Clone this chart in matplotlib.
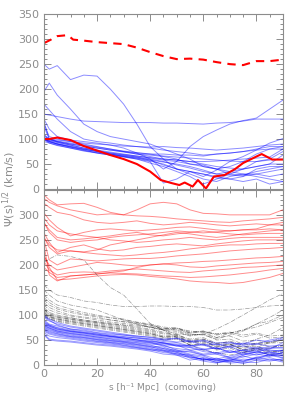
import matplotlib
matplotlib.use("Agg")
import matplotlib.pyplot as plt
from matplotlib.ticker import MultipleLocator

# common sampling of the separation axis
s = [0, 2, 5, 10, 15, 20, 25, 30, 35, 40, 45, 50, 55, 60, 65, 70, 75, 80, 85, 90]

# ---- top panel ----
top_blue = [
    [250, 240, 247, 219, 228, 226, 200, 170, 130, 85, 60, 40, 35, 25, 38, 55, 65, 78, 92, 101],
    [195, 212, 188, 160, 130, 115, 105, 100, 95, 90, 80, 70, 60, 45, 40, 30, 28, 35, 40, 45],
    [170, 158, 140, 115, 100, 95, 92, 88, 85, 82, 78, 75, 72, 68, 70, 72, 75, 80, 85, 85],
    [150, 148, 145, 140, 136, 135, 134, 133, 133, 133, 132, 132, 131, 130, 132, 133, 136, 140, 140, 140],
    [140, 120, 105, 98, 95, 92, 88, 82, 72, 60, 40, 55, 85, 105, 118, 130, 137, 142, 160, 178],
    [135, 100, 98, 95, 92, 90, 88, 86, 85, 84, 85, 83, 82, 80, 78, 80, 82, 85, 88, 90],
    [130, 105, 100, 95, 90, 85, 80, 75, 70, 68, 65, 60, 50, 45, 40, 45, 55, 70, 80, 85],
    [125, 100, 96, 92, 88, 84, 80, 76, 73, 70, 66, 64, 62, 60, 58, 56, 55, 55, 58, 60],
    [110, 98, 95, 90, 86, 82, 78, 74, 70, 65, 60, 58, 55, 50, 45, 42, 40, 45, 50, 50],
    [105, 100, 94, 88, 82, 78, 74, 70, 66, 62, 58, 55, 50, 48, 40, 35, 30, 25, 20, 15],
    [100, 97, 93, 88, 82, 77, 72, 68, 64, 58, 48, 40, 30, 20, 15, 25, 30, 30, 25, 30],
    [100, 95, 90, 85, 80, 75, 70, 66, 62, 56, 50, 40, 35, 30, 25, 20, 15, 20, 10, 15],
    [98, 94, 90, 84, 78, 72, 68, 64, 60, 55, 12, 20, 35, 30, 22, 20, 25, 40, 45, 45],
    [95, 92, 88, 82, 76, 72, 68, 65, 62, 58, 54, 50, 45, 38, 30, 35, 40, 45, 50, 68],
    [102, 95, 90, 84, 79, 75, 70, 65, 60, 52, 45, 35, 25, 10, 20, 30, 40, 55, 60, 75],
    [100, 96, 91, 86, 80, 76, 72, 69, 66, 63, 60, 58, 55, 55, 56, 58, 60, 62, 64, 80],
    [108, 100, 95, 90, 86, 82, 78, 75, 72, 70, 70, 68, 68, 66, 70, 72, 75, 78, 80, 80],
    [100, 92, 87, 82, 77, 73, 70, 67, 64, 60, 55, 48, 42, 35, 30, 28, 26, 30, 35, 40],
]

red_solid_s = [0, 2, 5, 10, 15, 20, 25, 30, 35, 40, 44, 48, 51, 53, 56, 58, 61, 64, 68, 72, 75, 80, 82, 86, 90]
red_solid = [100, 100, 103, 98, 86, 77, 68, 60, 50, 35, 18, 12, 8, 13, 5, 18, 1, 25, 28, 40, 52, 65, 70, 59, 59]

red_dash_s = [0, 3, 5, 9, 11, 15, 20, 25, 30, 35, 40, 45, 50, 55, 60, 65, 70, 75, 80, 85, 90]
red_dash = [292, 300, 306, 308, 299, 297, 294, 292, 290, 283, 274, 266, 260, 261, 259, 254, 250, 248, 256, 256, 259]

# ---- bottom panel ----
bot_red = [
    [340, 330, 320, 322, 323, 315, 305, 300, 310, 322, 325, 322, 310, 303, 302, 300, 300, 300, 300, 310],
    [333, 325, 318, 310, 305, 300, 302, 300, 298, 297, 295, 292, 290, 288, 286, 285, 288, 290, 292, 295],
    [323, 315, 305, 300, 290, 285, 283, 285, 288, 283, 280, 282, 285, 283, 280, 278, 280, 282, 280, 280],
    [304, 290, 275, 258, 265, 270, 272, 270, 268, 270, 272, 275, 276, 273, 270, 268, 270, 270, 272, 270],
    [294, 280, 268, 262, 258, 255, 258, 262, 265, 260, 258, 262, 265, 268, 265, 262, 260, 262, 263, 263],
    [284, 270, 255, 250, 252, 255, 250, 248, 245, 247, 250, 252, 255, 252, 250, 253, 255, 255, 255, 255],
    [264, 245, 225, 235, 240, 232, 228, 230, 235, 237, 240, 242, 240, 238, 242, 245, 248, 250, 250, 250],
    [255, 235, 222, 228, 225, 222, 220, 218, 220, 223, 225, 228, 232, 235, 238, 240, 240, 242, 243, 243],
    [250, 210, 200, 212, 210, 208, 210, 212, 213, 213, 215, 218, 220, 222, 225, 228, 230, 232, 233, 235],
    [240, 180, 168, 178, 180, 182, 185, 188, 195, 200, 202, 204, 205, 207, 208, 210, 212, 214, 215, 217],
    [217, 200, 190, 195, 200, 205, 203, 200, 198, 200, 202, 200, 196, 195, 198, 200, 202, 204, 205, 207],
    [207, 190, 180, 185, 186, 185, 188, 190, 192, 190, 188, 186, 185, 188, 190, 192, 195, 196, 198, 200],
    [195, 185, 175, 178, 180, 182, 184, 183, 182, 180, 178, 177, 175, 176, 178, 180, 183, 186, 190, 193],
    [220, 195, 170, 172, 175, 178, 180, 181, 180, 177, 175, 172, 168, 166, 165, 163, 165, 170, 175, 183],
    [255, 240, 230, 228, 226, 230, 240, 245, 250, 255, 260, 265, 262, 258, 255, 258, 262, 265, 268, 270],
    [285, 265, 250, 245, 248, 250, 255, 258, 260, 262, 265, 268, 266, 264, 266, 268, 270, 272, 280, 285],
]

bot_gray = [
    [205, 212, 220, 217, 210, 180, 155, 140, 112, 83, 70, 55, 40, 30, 25, 20, 25, 35, 45, 50],
    [160, 150, 140, 135, 128, 125, 120, 117, 117, 118, 118, 117, 117, 115, 110, 110, 112, 115, 118, 120],
    [150, 140, 128, 120, 115, 110, 100, 90, 82, 75, 70, 62, 60, 62, 72, 85, 100, 115, 130, 143],
    [140, 130, 120, 112, 105, 100, 95, 92, 85, 80, 74, 70, 62, 60, 52, 60, 68, 82, 88, 100],
    [130, 120, 112, 105, 100, 96, 90, 86, 82, 77, 72, 74, 66, 68, 62, 66, 60, 64, 58, 60],
    [125, 115, 108, 100, 96, 93, 90, 87, 84, 80, 72, 74, 64, 66, 55, 58, 48, 50, 44, 45],
    [120, 110, 104, 98, 94, 90, 86, 83, 80, 76, 70, 68, 60, 62, 50, 52, 42, 52, 60, 75],
    [115, 105, 100, 95, 90, 87, 84, 80, 76, 72, 66, 66, 58, 62, 55, 64, 70, 82, 95, 110],
    [110, 103, 98, 94, 90, 86, 82, 78, 74, 70, 64, 60, 52, 55, 44, 46, 36, 38, 28, 25],
    [108, 100, 96, 92, 88, 84, 80, 76, 72, 68, 62, 62, 50, 52, 42, 42, 35, 44, 46, 55],
    [105, 98, 94, 90, 86, 82, 78, 74, 70, 66, 58, 60, 48, 52, 42, 48, 40, 44, 36, 38],
    [102, 96, 92, 88, 84, 80, 76, 72, 68, 64, 56, 58, 46, 48, 38, 42, 30, 34, 26, 28],
    [100, 95, 90, 86, 82, 78, 74, 70, 66, 62, 55, 56, 44, 46, 36, 40, 32, 42, 44, 50],
    [98, 93, 88, 84, 80, 76, 72, 68, 64, 60, 52, 54, 40, 44, 32, 38, 26, 30, 20, 20],
    [96, 92, 87, 82, 78, 74, 70, 66, 62, 58, 50, 52, 40, 42, 30, 34, 24, 32, 34, 40],
    [135, 125, 115, 108, 102, 98, 94, 90, 86, 82, 76, 74, 68, 66, 62, 64, 70, 76, 85, 95],
    [112, 102, 96, 92, 88, 85, 82, 80, 78, 76, 70, 72, 64, 68, 60, 64, 56, 62, 54, 56],
    [104, 97, 92, 87, 83, 79, 75, 71, 67, 63, 56, 58, 46, 50, 36, 42, 30, 34, 22, 23],
]

bot_blue = [
    [100, 92, 85, 78, 74, 70, 66, 62, 58, 55, 50, 53, 46, 48, 40, 44, 42, 50, 47, 52],
    [95, 88, 82, 76, 72, 68, 64, 60, 56, 52, 47, 45, 38, 42, 33, 38, 44, 42, 50, 55],
    [90, 82, 78, 72, 68, 64, 60, 57, 54, 50, 44, 40, 36, 30, 35, 25, 30, 36, 32, 45],
    [85, 80, 75, 70, 66, 62, 58, 54, 50, 47, 45, 38, 35, 27, 24, 30, 20, 26, 33, 35],
    [82, 78, 72, 68, 64, 60, 57, 54, 50, 46, 40, 40, 30, 32, 22, 26, 25, 30, 28, 30],
    [80, 76, 70, 66, 62, 58, 55, 52, 48, 45, 38, 33, 30, 22, 25, 15, 22, 28, 20, 25],
    [78, 74, 68, 64, 60, 56, 52, 48, 45, 42, 40, 30, 26, 20, 12, 18, 24, 20, 26, 18],
    [76, 72, 66, 62, 58, 54, 50, 47, 44, 40, 33, 30, 22, 18, 8, 14, 18, 12, 22, 15],
    [75, 70, 65, 60, 56, 52, 49, 46, 42, 38, 36, 27, 28, 20, 22, 14, 8, 15, 10, 12],
    [73, 68, 63, 58, 55, 51, 48, 45, 41, 37, 30, 28, 20, 15, 10, 12, 8, 16, 20, 14],
    [72, 66, 62, 57, 54, 50, 46, 43, 40, 36, 33, 25, 18, 10, 14, 6, 12, 10, 15, 8],
    [70, 64, 60, 56, 52, 48, 45, 42, 38, 34, 28, 26, 16, 12, 6, 10, 16, 22, 18, 25],
    [68, 62, 58, 54, 50, 47, 44, 40, 36, 32, 30, 22, 20, 10, 12, 8, 20, 26, 22, 30],
    [65, 58, 55, 52, 48, 45, 42, 39, 35, 31, 25, 23, 14, 8, 4, 10, 6, 14, 18, 20],
    [62, 52, 50, 48, 45, 42, 40, 37, 34, 30, 28, 20, 16, 12, 10, 4, 6, 5, 12, 6],
    [60, 50, 48, 46, 43, 40, 38, 35, 32, 28, 22, 20, 10, 14, 5, 8, 3, 10, 8, 12],
    [98, 90, 80, 72, 70, 65, 62, 60, 58, 56, 52, 54, 48, 50, 44, 46, 40, 42, 38, 40],
    [88, 80, 74, 68, 65, 62, 58, 56, 54, 52, 50, 46, 48, 40, 42, 36, 38, 33, 36, 34],
    [84, 78, 72, 67, 64, 60, 57, 54, 51, 48, 44, 42, 38, 40, 32, 36, 28, 32, 30, 28],
    [79, 74, 68, 63, 60, 56, 53, 50, 47, 44, 43, 38, 40, 32, 34, 26, 30, 24, 26, 22],
]

gray = '#8c8c8c'
plt.rcParams['font.family'] = ['DejaVu Sans']

fig = plt.figure(figsize=(2.95, 3.93), dpi=100)
ax1 = fig.add_axes([0.149, 0.519, 0.81, 0.445])
ax2 = fig.add_axes([0.149, 0.071, 0.81, 0.446])

for y in top_blue:
    ax1.plot(s, y, color='blue', alpha=0.45, lw=0.7)
ax1.plot(red_solid_s, red_solid, color='red', lw=1.5)
ax1.plot(red_dash_s, red_dash, color='red', lw=1.5, ls=(0, (4, 3)))

for y in bot_red:
    ax2.plot(s, y, color='red', alpha=0.45, lw=0.7)
for y in bot_gray:
    ax2.plot(s, y, color='black', alpha=0.4, lw=0.5, ls='-.')
for y in bot_blue:
    ax2.plot(s, y, color='blue', alpha=0.4, lw=0.7)

for ax in (ax1, ax2):
    ax.set_xlim(0, 90)
    ax.set_ylim(0, 350)
    ax.xaxis.set_major_locator(MultipleLocator(20))
    ax.xaxis.set_minor_locator(MultipleLocator(5))
    ax.yaxis.set_major_locator(MultipleLocator(50))
    ax.yaxis.set_minor_locator(MultipleLocator(10))
    ax.tick_params(which='both', direction='in', top=True, right=True,
                   color=gray, labelcolor=gray, labelsize=8, width=0.7)
    ax.tick_params(which='major', length=5)
    ax.tick_params(which='minor', length=2.5)
    for sp in ax.spines.values():
        sp.set_color(gray)
        sp.set_linewidth(0.8)

ax1.set_xticklabels([])
ax2.set_yticks([0, 50, 100, 150, 200, 250, 300])
ax2.tick_params(axis='x', pad=2.5)

fig.text(0.03, 0.52, r'$\Psi$(s)$^{1/2}$ (km/s)', rotation=90, color=gray,
         fontsize=8, ha='center', va='center')
fig.text(0.55, 0.002, 's [h\u207b\u00b9 Mpc]  (comoving)', color=gray,
         fontsize=6.5, ha='center', va='bottom')

fig.savefig('out.png', dpi=100)
